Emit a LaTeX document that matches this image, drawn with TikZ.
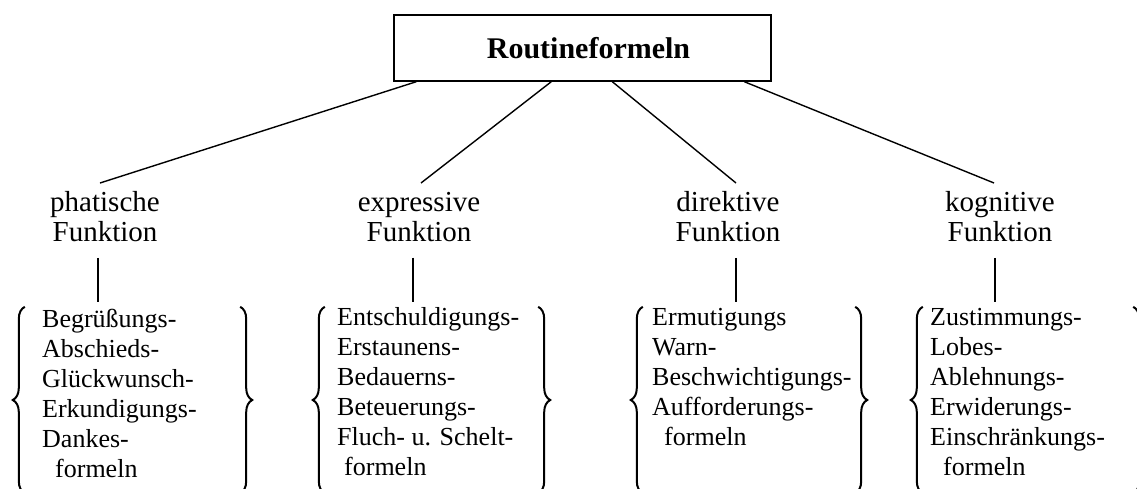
\documentclass[tikz,border=0pt]{standalone}
\usepackage{fontspec}
\setmainfont{Liberation Serif}
\usetikzlibrary{decorations.pathreplacing}
\begin{document}
\begin{tikzpicture}[x=1pt,y=-1pt,
  headbox/.style={draw, line width=1.4pt, minimum width=377pt, minimum height=66pt,
    inner sep=0pt, font=\fontsize{30}{32}\selectfont\bfseries},
  funclabel/.style={align=center, inner xsep=0pt, inner ysep=8pt, anchor=north,
    font=\fontsize{29}{30}\selectfont},
  formlist/.style={align=left, inner sep=0pt, anchor=north west,
    font=\fontsize{26}{30}\selectfont},
  bracegroup/.style={minimum width=#1, minimum height=186pt, inner sep=0pt},
  link/.style={line width=1.4pt},
  curly/.style={decorate, decoration={brace, amplitude=12pt}, line width=2pt},
]
\useasboundingbox (0,0) rectangle (1137,488);

% root
\node[headbox] (title) at (582.5,48) {\hspace*{12pt}Routineformeln};

% the four functions
\node[funclabel] (f1) at (105,183) {\rule{0pt}{20pt}phatische\\Funktion};
\node[funclabel] (f2) at (419,183) {\rule{0pt}{20pt}expressive\\Funktion};
\node[funclabel] (f3) at (728,183) {\rule{0pt}{20pt}direktive\\Funktion};
\node[funclabel] (f4) at (1000,183) {\rule{0pt}{20pt}kognitive\\Funktion};

\draw[link] ([xshift=23pt]title.south west)  -- ([xshift=-5pt]f1.north);
\draw[link] ([xshift=158pt]title.south west) -- ([xshift=2pt]f2.north);
\draw[link] ([xshift=219pt]title.south west) -- ([xshift=8pt]f3.north);
\draw[link] ([xshift=351pt]title.south west) -- ([xshift=-6pt]f4.north);

% brace groups holding the formula lists
\node[bracegroup=215pt] (b1) at (132.5,400) {};
\node[bracegroup=213pt] (b2) at (431.5,400) {};
\node[bracegroup=212pt] (b3) at (749,400) {};
\node[bracegroup=210pt] (b4) at (1028,400) {};

\foreach \g in {b1,b2,b3,b4}{
  \draw[curly] (\g.south west) -- (\g.north west);
  \draw[curly] (\g.north east) -- (\g.south east);
}

% stems from the functions down to their groups
\draw[link] ([xshift=-7pt,yshift=-8pt]f1.south) -- ([xshift=-7pt,yshift=5pt]f1.south |- b1.north);
\draw[link] ([xshift=-6pt,yshift=-8pt]f2.south) -- ([xshift=-6pt,yshift=5pt]f2.south |- b2.north);
\draw[link] ([xshift=8pt,yshift=-8pt]f3.south)  -- ([xshift=8pt,yshift=5pt]f3.south |- b3.north);
\draw[link] ([xshift=-5pt,yshift=-8pt]f4.south) -- ([xshift=-5pt,yshift=5pt]f4.south |- b4.north);

% formula lists
\node[formlist] (l1) at (42,307) {\rule{0pt}{20pt}Begrüßungs-\\Abschieds-\\Glückwunsch-\\Erkundigungs-\\Dankes-\\\hspace*{13pt}formeln};
\node[formlist] (l2) at (337,305) {\rule{0pt}{20pt}Entschuldigungs-\\Erstaunens-\\Bedauerns-\\Beteuerungs-\\Fluch- u. Schelt-\\\hspace*{7pt}formeln};
\node[formlist] (l3) at (652,305) {\rule{0pt}{20pt}Ermutigungs\\Warn-\\Beschwichtigungs-\\Aufforderungs-\\\hspace*{12pt}formeln};
\node[formlist] (l4) at (930,305) {\rule{0pt}{20pt}Zustimmungs-\\Lobes-\\Ablehnungs-\\Erwiderungs-\\Einschränkungs-\\\hspace*{13pt}formeln};
\end{tikzpicture}
\end{document}
